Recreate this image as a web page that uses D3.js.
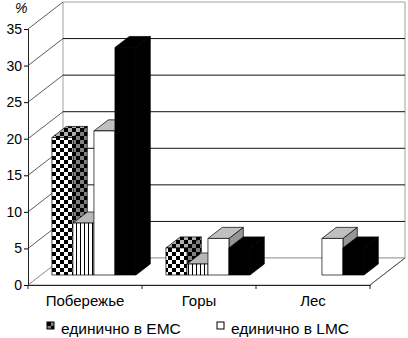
<!DOCTYPE html>
<html>
<head>
<meta charset="utf-8">
<script src="https://cdn.jsdelivr.net/npm/d3@7"></script>
<style>
  body { margin: 0; background: #fff; }
  text { font-family: "Liberation Sans", Arial, sans-serif; fill: #000; }
</style>
</head>
<body>
<script>
var categories = ["Побережье", "Горы", "Лес"],
    seriesKeys = ["emcSingle", "emcGroup", "lmcSingle", "lmcGroup"],
    legendLabels = ["единично в EMC", "единично в LMC"],
    yTicks = [0, 5, 10, 15, 20, 25, 30, 35];

// values, in %
var emcSingle = [18.8, 3.7, 0],
    emcGroup  = [7.1, 1.5, 0],
    lmcSingle = [19.7, 5, 5],
    lmcGroup  = [31.1, 3.7, 3.7];

var values = {emcSingle: emcSingle, emcGroup: emcGroup, lmcSingle: lmcSingle, lmcGroup: lmcGroup};

var W = 408, H = 338;
var DX = 35, DY = -27,       // full depth of the 3d box
    f0 = 0.37, f1 = 0.78;    // bar front / back depth

var x = d3.scaleBand().domain(categories).range([28, 370]),
    x1 = d3.scaleBand().domain(seriesKeys).range([11, 95]),
    y = d3.scaleLinear().domain([0, 35]).range([285, 29]);

var svg = d3.select("body").append("svg")
    .attr("width", W)
    .attr("height", H);

var defs = svg.append("defs");

function checker(id, bg) {
  var p = defs.append("pattern").attr("id", id)
      .attr("patternUnits", "userSpaceOnUse")
      .attr("width", 8).attr("height", 8);
  p.append("rect").attr("width", 8).attr("height", 8).attr("fill", bg);
  p.append("rect").attr("width", 4).attr("height", 4).attr("fill", "#000");
  p.append("rect").attr("x", 4).attr("y", 4).attr("width", 4).attr("height", 4).attr("fill", "#000");
}
function stripes(id, bg) {
  var p = defs.append("pattern").attr("id", id)
      .attr("patternUnits", "userSpaceOnUse")
      .attr("width", 4).attr("height", 4);
  p.append("rect").attr("width", 4).attr("height", 4).attr("fill", bg);
  p.append("rect").attr("x", 0).attr("width", 1).attr("height", 4).attr("fill", "#000");
}
checker("chkFront", "#fff");
checker("chkTop", "#b0b0b0");
checker("chkSide", "#808080");
stripes("strFront", "#fff");
stripes("strTop", "#b8b8b8");
stripes("strSide", "#909090");

var fills = {
  emcSingle: ["url(#chkFront)", "url(#chkTop)", "url(#chkSide)"],
  emcGroup:  ["url(#strFront)", "#b8b8b8", "url(#strSide)"],
  lmcSingle: ["#fff", "#c0c0c0", "#969696"],
  lmcGroup:  ["#000", "#000", "#000"]
};

function pt(xa, v, f) { return [xa + f * DX, y(v) + f * DY]; }
function poly(points) { return "M" + points.map(function(p) { return p[0] + "," + p[1]; }).join("L") + "Z"; }

var xl = x.range()[0], xr = x.range()[1];

// walls
var walls = svg.append("g").attr("class", "walls");
walls.append("path")
    .attr("d", poly([pt(xl, 35, 1), pt(xr, 35, 1), pt(xr, 0, 1), pt(xl, 0, 1)]))
    .attr("fill", "#fff").attr("stroke", "#a0a0a0");
walls.append("path")
    .attr("d", poly([pt(xl, 0, 0), pt(xl, 0, 1), pt(xr, 0, 1), pt(xr, 0, 0)]))
    .attr("fill", "#fff").attr("stroke", "#a0a0a0");

// gridlines: side wall diagonals and back wall lines
var grid = svg.append("g").attr("class", "grid");
grid.selectAll("line.diag")
    .data(yTicks)
  .enter().append("line")
    .attr("class", "diag")
    .attr("x1", function(d) { return pt(xl, d, 0)[0]; })
    .attr("y1", function(d) { return pt(xl, d, 0)[1]; })
    .attr("x2", function(d) { return pt(xl, d, 1)[0]; })
    .attr("y2", function(d) { return pt(xl, d, 1)[1]; })
    .attr("stroke", function(d) { return d === 0 ? "#a0a0a0" : "#333"; })
    .attr("stroke-width", 0.8);
grid.selectAll("line.back")
    .data(yTicks.filter(function(d) { return d > 0 && d < 35; }))
  .enter().append("line")
    .attr("class", "back")
    .attr("x1", function(d) { return pt(xl, d, 1)[0]; })
    .attr("y1", function(d) { return pt(xl, d, 1)[1]; })
    .attr("x2", function(d) { return pt(xr, d, 1)[0]; })
    .attr("y2", function(d) { return pt(xr, d, 1)[1]; })
    .attr("stroke", "#111")
    .attr("stroke-width", 1);
// right floor edge
grid.append("line")
    .attr("x1", pt(xr, 0, 0)[0]).attr("y1", pt(xr, 0, 0)[1])
    .attr("x2", pt(xr, 0, 1)[0]).attr("y2", pt(xr, 0, 1)[1])
    .attr("stroke", "#555");

// bars, drawn left to right
var bars = [];
categories.forEach(function(c, i) {
  seriesKeys.forEach(function(k) {
    bars.push({cat: c, key: k, value: values[k][i]});
  });
});

var bar = svg.append("g").attr("class", "bars")
  .selectAll("g")
    .data(bars.filter(function(d) { return d.value > 0; }))
  .enter().append("g");

bar.append("path")   // right side
    .attr("d", function(d) {
      var xb = x(d.cat) + x1(d.key) + x1.bandwidth();
      return poly([pt(xb, 0, f0), pt(xb, d.value, f0), pt(xb, d.value, f1), pt(xb, 0, f1)]);
    })
    .attr("fill", function(d) { return fills[d.key][2]; })
    .attr("stroke", "#000").attr("stroke-width", 0.7);
bar.append("path")   // top
    .attr("d", function(d) {
      var xa = x(d.cat) + x1(d.key), xb = xa + x1.bandwidth();
      return poly([pt(xa, d.value, f0), pt(xb, d.value, f0), pt(xb, d.value, f1), pt(xa, d.value, f1)]);
    })
    .attr("fill", function(d) { return fills[d.key][1]; })
    .attr("stroke", "#000").attr("stroke-width", 0.7);
bar.append("path")   // front
    .attr("d", function(d) {
      var xa = x(d.cat) + x1(d.key), xb = xa + x1.bandwidth();
      return poly([pt(xa, 0, f0), pt(xb, 0, f0), pt(xb, d.value, f0), pt(xa, d.value, f0)]);
    })
    .attr("fill", function(d) { return fills[d.key][0]; })
    .attr("stroke", "#000").attr("stroke-width", 0.7);

// axes
var yAxis = svg.append("g")
    .attr("transform", "translate(" + xl + ",0)")
    .call(d3.axisLeft(y).tickValues(yTicks).tickSize(4).tickPadding(2));
yAxis.select(".domain").attr("stroke", "#222");
yAxis.selectAll("text").style("font-size", "14px");

var xAxis = svg.append("g")
    .attr("transform", "translate(0," + y(0) + ")")
    .call(d3.axisBottom(x).tickSize(0).tickPadding(10).tickSizeOuter(0));
xAxis.select(".domain").attr("stroke", "#222");
xAxis.selectAll("text").style("font-size", "15px");
xAxis.selectAll("line.sep")
    .data(d3.range(categories.length + 1))
  .enter().append("line")
    .attr("class", "sep")
    .attr("x1", function(i) { return xl + i * x.step(); })
    .attr("x2", function(i) { return xl + i * x.step(); })
    .attr("y1", 0).attr("y2", 4)
    .attr("stroke", "#222");

svg.append("text")
    .attr("x", 15).attr("y", 13)
    .style("font-size", "14px")
    .style("font-style", "italic")
    .text("%");

// legend
var legend = svg.append("g").attr("class", "legend")
  .selectAll("g")
    .data(legendLabels)
  .enter().append("g")
    .attr("transform", function(d, i) { return "translate(" + [47, 217][i] + ",322)"; });
legend.append("rect")
    .attr("width", 7).attr("height", 7)
    .attr("fill", function(d, i) { return i === 0 ? "url(#chkSide)" : "#fff"; })
    .attr("stroke", "#000");
legend.append("text")
    .attr("x", 14).attr("y", 12)
    .style("font-size", "15.5px")
    .text(String);
</script>
</body>
</html>
